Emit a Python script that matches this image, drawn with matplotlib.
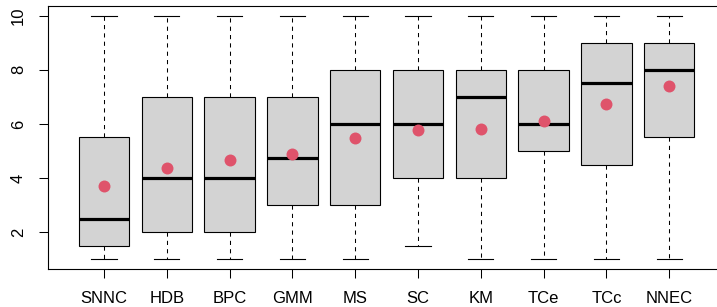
import matplotlib
matplotlib.use("Agg")
import matplotlib.pyplot as plt

# ---- data ----
methods = ["SNNC", "HDB", "BPC", "GMM", "MS", "SC", "KM", "TCe", "TCc", "NNEC"]
whis_lo = [1, 1, 1, 1, 1, 1.5, 1, 1, 1, 1]
q1 = [1.5, 2, 2, 3, 3, 4, 4, 5, 4.5, 5.5]
medians = [2.5, 4, 4, 4.75, 6, 6, 7, 6, 7.5, 8]
q3 = [5.5, 7, 7, 7, 8, 8, 8, 8, 9, 9]
whis_hi = [10, 10, 10, 10, 10, 10, 10, 10, 10, 10]
means = [3.70, 4.38, 4.66, 4.90, 5.47, 5.78, 5.81, 6.10, 6.75, 7.39]

plt.rcParams["font.family"] = ["Liberation Sans", "DejaVu Sans"]

W, H, DPI = 717, 307, 100
fig = plt.figure(figsize=(W / DPI, H / DPI), dpi=DPI, facecolor="white")
# plot region in pixels (right edge of R's box falls just outside the image)
left, right, top, bottom = 47.5, 725.7, 6, 269
ax = fig.add_axes([left / W, 1 - bottom / H, (right - left) / W, (bottom - top) / H])

stats = []
for i, name in enumerate(methods):
    stats.append(dict(label=name, whislo=whis_lo[i], q1=q1[i], med=medians[i],
                      q3=q3[i], whishi=whis_hi[i], fliers=[]))

pos = list(range(1, len(methods) + 1))
ax.bxp(stats, positions=pos, widths=0.8, showfliers=False, patch_artist=True,
       boxprops=dict(facecolor="#D3D3D3", edgecolor="black", linewidth=0.8),
       medianprops=dict(color="black", linewidth=2.3, solid_capstyle="butt"),
       whiskerprops=dict(color="black", linewidth=0.75, linestyle=(0, (4, 4))),
       capprops=dict(color="black", linewidth=0.8),
       capwidths=0.4)

ax.plot(pos, means, "o", color="#DF536B", markersize=8.6, markeredgewidth=0, zorder=5)

ax.set_xlim(0.1, 10.9)
ax.set_ylim(0.64, 10.36)
ax.set_yticks([2, 4, 6, 8, 10])
ax.set_xticks(pos)
ax.set_xticklabels(methods)
ax.tick_params(axis="both", direction="out", length=6.5, width=0.75,
               labelsize=12, color="black")
ax.tick_params(axis="x", pad=9.5)
ax.tick_params(axis="y", pad=9)
for lab in ax.get_yticklabels():
    lab.set_rotation(90)
    lab.set_va("center")

for sp in ax.spines.values():
    sp.set_linewidth(0.8)
    sp.set_color("black")

fig.savefig("out.png", dpi=DPI)
